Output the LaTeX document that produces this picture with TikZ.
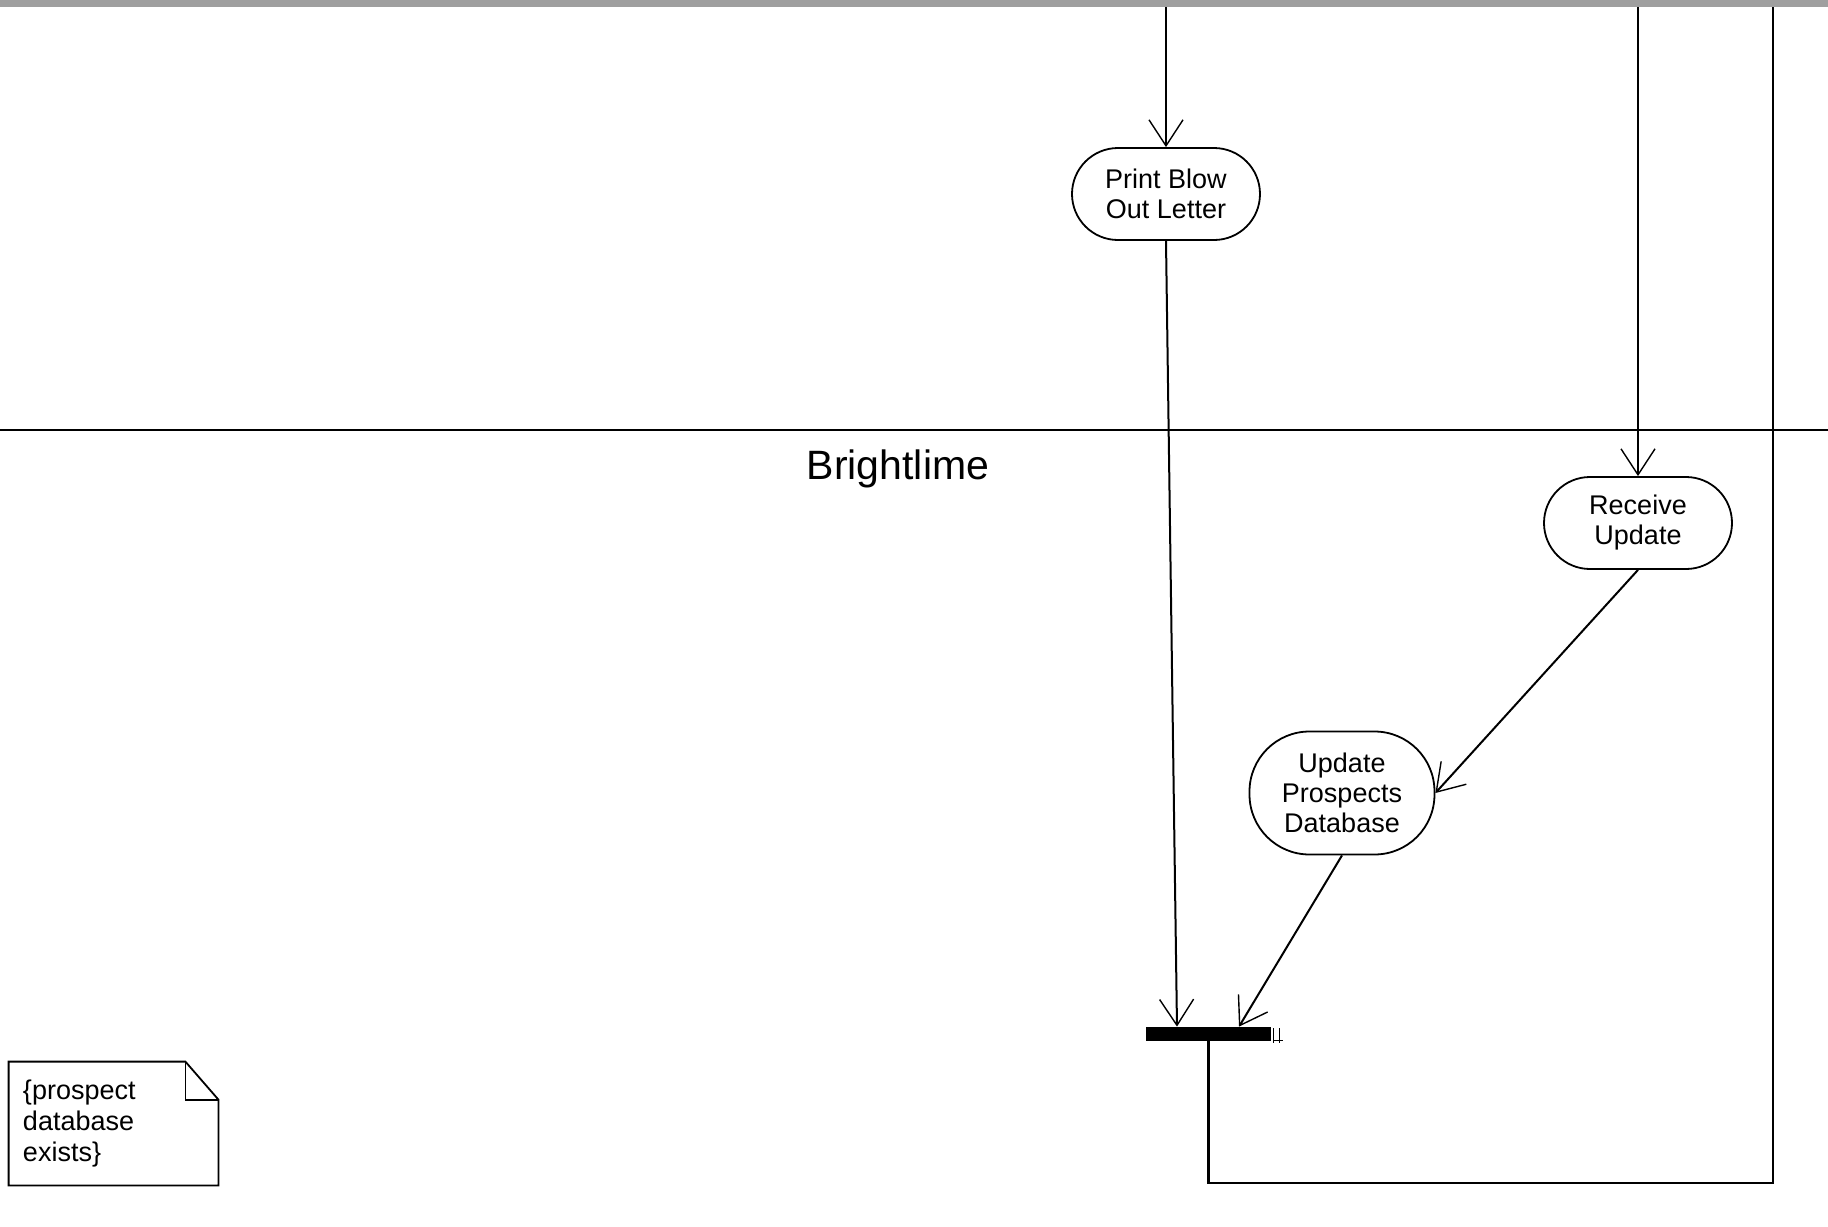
\documentclass[tikz,border=0pt]{standalone}
\usepackage{fontspec}
\setmainfont{Liberation Sans}
\usetikzlibrary{arrows.meta, positioning}

\begin{document}
\begin{tikzpicture}[
    x=0.5pt, y=-0.5pt,
    activity/.style={draw, line width=0.9pt, rounded corners=23pt, minimum width=94pt, minimum height=46pt, inner sep=0pt, align=center, font=\fontsize{13.5}{15}\selectfont},
    flow/.style={-{Straight Barb[length=13pt, width=17pt, line width=0.7pt]}, line width=1pt},
    lane/.style={line width=1.4pt},
    joinbar/.style={fill=black, minimum width=62.5pt, minimum height=7pt, inner sep=0pt},
    notebox/.style={minimum width=104.5pt, minimum height=61.5pt, inner xsep=7pt, text width=90.5pt, align=left, font=\fontsize{13.5}{15.5}\selectfont}
]
    \useasboundingbox (0,0) rectangle (1828,1227);

    % Swimlane frame
    \fill[gray!75] (0,0) rectangle (1828,7);
    \draw[lane] (0,430) -- (1828,430);
    \node[font=\fontsize{20.5}{24}\selectfont] (lanename) at (898,469) {Brightlime};

    % Activities
    \node[activity] (print) at (1166,194) {Print Blow\\Out Letter};
    \node[activity] (receive) at (1638,523) {Receive\\Update};
    \node[activity, minimum width=92.5pt, minimum height=61.5pt, rounded corners=30pt] (update) at (1342,793) {Update\\Prospects\\Database};

    % Join
    \node[joinbar] (join) at (1208.5,1034) {};
    \draw[line width=0.5pt] (1273,1028) -- (1273,1043) (1279,1028) -- (1279,1043) (1273,1040) -- (1283,1040);

    % Flows
    \coordinate (inP) at (1166,7);
    \coordinate (inR) at (1638,7);
    \coordinate (back) at (1773,1183);
    \coordinate (outT) at (1773,7);
    \draw[flow] (inP) -- (print.north);
    \draw[flow] (inR) -- (receive.north);
    \draw[flow] (print.south) -- ([xshift=-15.75pt]join.north);
    \draw[flow] (receive.south) -- (update.east);
    \draw[flow] (update.south) -- ([xshift=15.25pt]join.north);
    \draw[lane] (join.south) |- (back) -- (outT);

    % Note
    \node[notebox] (note) at (113.5,1123.5) {\{prospect\\database\\exists\}};
    \draw[line width=0.9pt] (note.north west) -- ([xshift=-16.5pt]note.north east) -- ([yshift=-19pt]note.north east) -- (note.south east) -- (note.south west) -- cycle;
    \draw[line width=0.9pt] ([xshift=-16.5pt]note.north east) |- ([yshift=-19pt]note.north east);
\end{tikzpicture}
\end{document}
